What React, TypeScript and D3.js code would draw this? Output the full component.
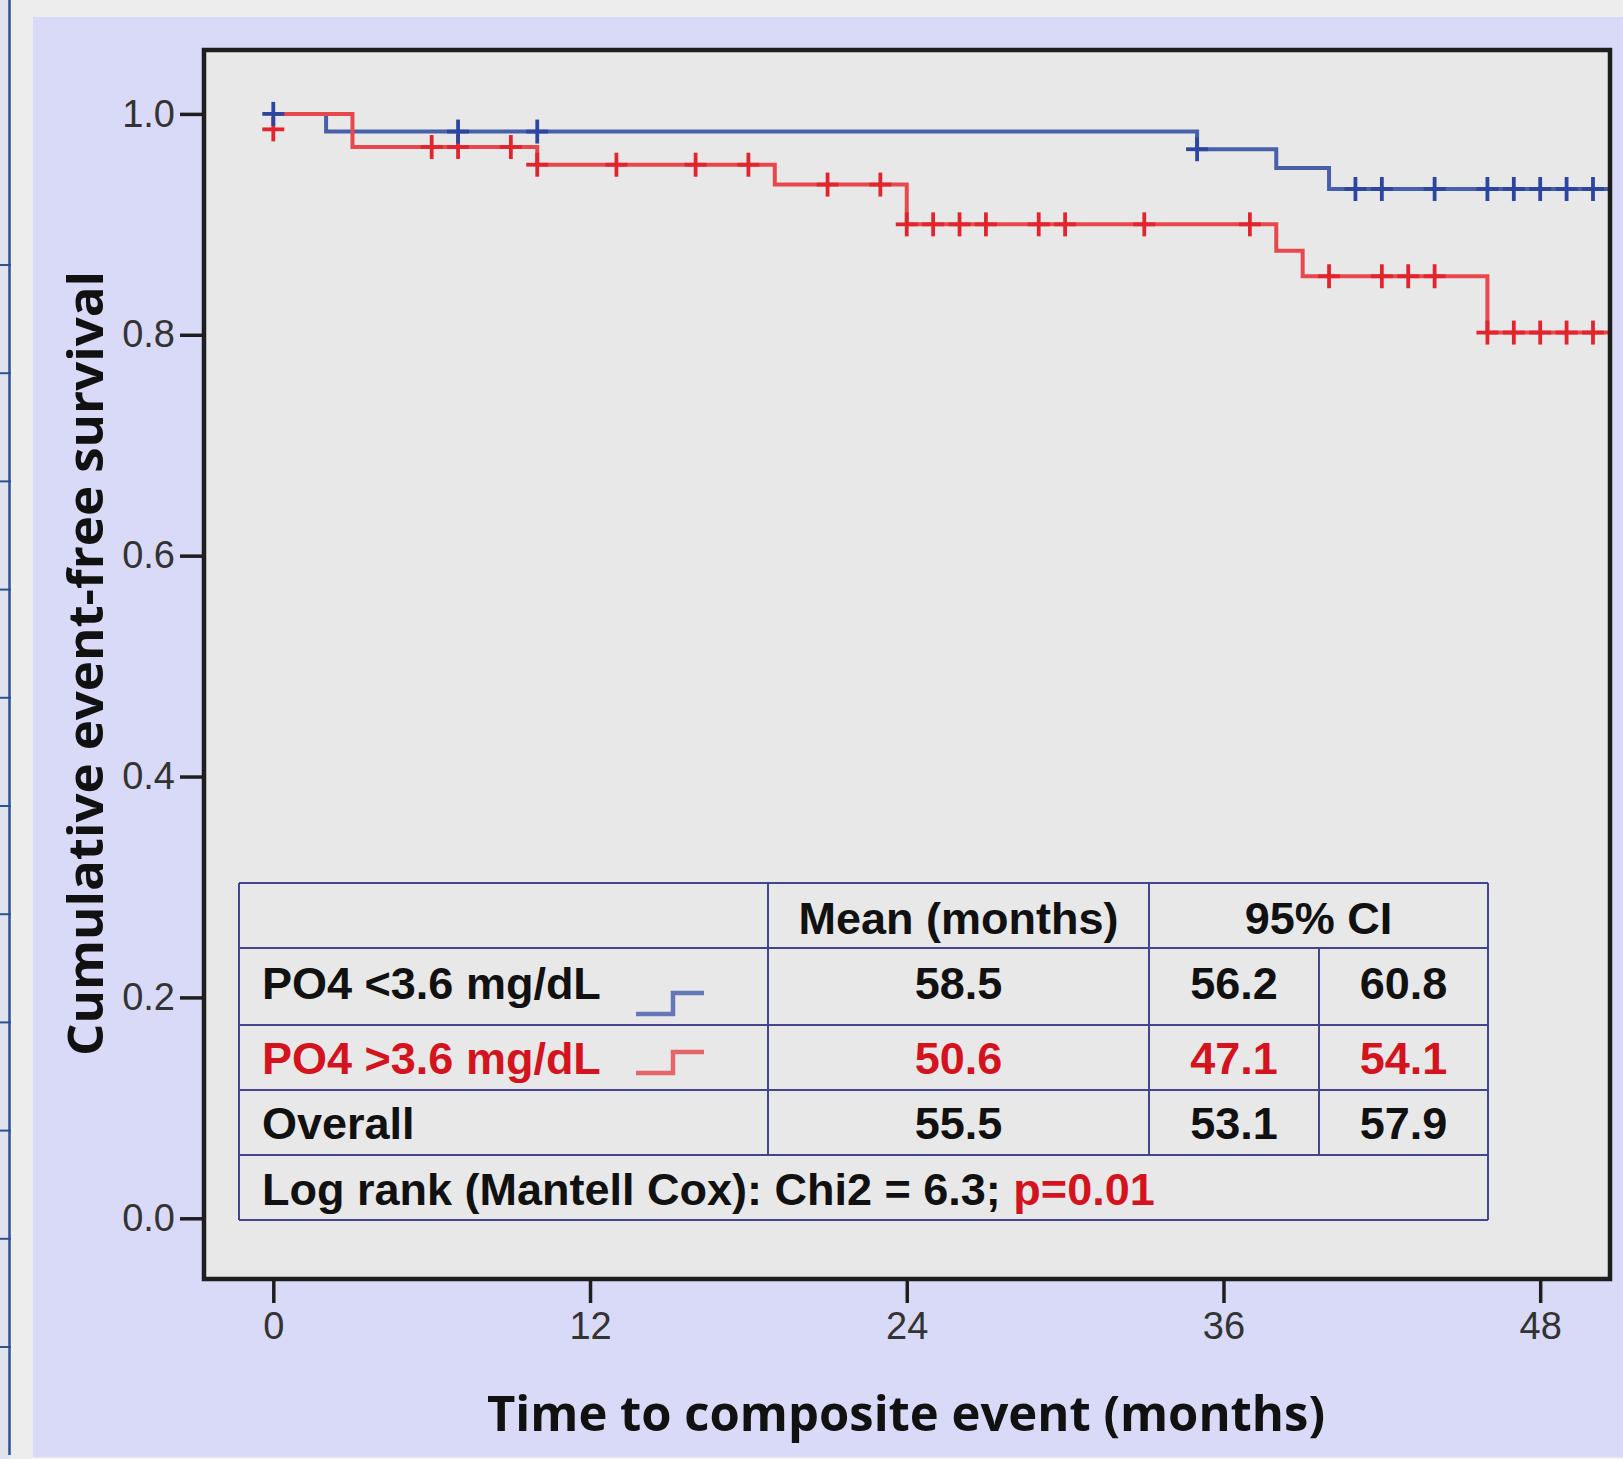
import { useEffect, useRef } from 'react';
import * as d3 from 'd3';

const W = 1623;
const H = 1459;

// Kaplan-Meier steps: time (months) and survival
const lowTimes = [0, 2, 35, 38, 40];
const lowSurv = [1.0, 0.984, 0.968, 0.951, 0.932];
const highTimes = [0, 3, 10, 19, 24, 38, 39, 46];
const highSurv = [1.0, 0.97, 0.954, 0.936, 0.9, 0.876, 0.853, 0.802];
const lastFollowUp = 50.6;

// censored observations [time, survival at mark]
const lowCensored = [
    [0, 1.0], [7, 0.984], [10, 0.984], [35, 0.968],
    [41, 0.932], [42, 0.932], [44, 0.932], [46, 0.932], [47, 0.932], [48, 0.932], [49, 0.932], [50, 0.932],
];
const highCensored = [
    [0, 0.986], [6, 0.97], [7, 0.97], [9, 0.97],
    [10, 0.954], [13, 0.954], [16, 0.954], [18, 0.954],
    [21, 0.936], [23, 0.936],
    [24, 0.9], [25, 0.9], [26, 0.9], [27, 0.9], [29, 0.9], [30, 0.9], [33, 0.9], [37, 0.9],
    [40, 0.853], [42, 0.853], [43, 0.853], [44, 0.853],
    [46, 0.802], [47, 0.802], [48, 0.802], [49, 0.802], [50, 0.802],
];

const xTicks = [0, 12, 24, 36, 48];
const yTicks = [0, 0.2, 0.4, 0.6, 0.8, 1.0];

// summary table
const tableHeader = ['Mean (months)', '95% CI'];
const groupLabels = ['PO4 <3.6 mg/dL', 'PO4 >3.6 mg/dL', 'Overall'];
const meanMonths = ['58.5', '50.6', '55.5'];
const ciLower = ['56.2', '47.1', '53.1'];
const ciUpper = ['60.8', '54.1', '57.9'];
const logRankText = 'Log rank (Mantell Cox): Chi2 = 6.3; ';
const pValueText = 'p=0.01';

const COLORS = {
    page: '#ededed',
    strip: '#dfe3ee',
    stripLine: '#2d5290',
    panel: '#d9d9f8',
    plot: '#e8e8e8',
    frame: '#1e1e1e',
    tick: '#333333',
    blue: '#4860a8',
    blueMark: '#2c46a0',
    red: '#e8474c',
    redMark: '#e2242c',
    redText: '#d3131e',
    grid: '#45458f',
    legendBlue: '#6478b8',
    legendRed: '#e6656a',
};

const SANS = "'Liberation Sans', Arial, sans-serif";
const TITLE = "'Open Sans', 'DejaVu Sans', sans-serif";

export default function App() {
    const svgRef = useRef(null);

    useEffect(() => {
        const svg = d3.select(svgRef.current);
        svg.selectAll('*').remove();

        // backdrop
        svg.append('rect').attr('width', W).attr('height', H).attr('fill', COLORS.page);
        svg.append('rect').attr('x', 0).attr('y', 0).attr('width', 9).attr('height', H).attr('fill', COLORS.strip);
        svg.append('line').attr('x1', 9.5).attr('x2', 9.5).attr('y1', 0).attr('y2', 1455)
            .attr('stroke', COLORS.stripLine).attr('stroke-width', 2.5);
        d3.range(11).forEach(i => {
            const yy = 265 + i * 108.2;
            svg.append('line').attr('x1', 0).attr('x2', 11).attr('y1', yy).attr('y2', yy)
                .attr('stroke', COLORS.stripLine).attr('stroke-width', 2);
        });
        svg.append('rect').attr('x', 33).attr('y', 17).attr('width', W - 33).attr('height', 1440).attr('fill', COLORS.panel);

        const frame = { left: 204, top: 50, right: 1610, bottom: 1279 };
        const x = d3.scaleLinear().domain([0, 48]).range([273.3, 1540.2]);
        const y = d3.scaleLinear().domain([0, 1]).range([1218.3, 113.9]);

        svg.append('rect')
            .attr('x', frame.left).attr('y', frame.top)
            .attr('width', frame.right - frame.left).attr('height', frame.bottom - frame.top)
            .attr('fill', COLORS.plot);

        // Axes
        const yAxis = svg.append('g').attr('transform', `translate(${frame.left},0)`)
            .call(d3.axisLeft(y).tickValues(yTicks).tickFormat(d3.format('.1f')).tickSize(24).tickPadding(5));
        yAxis.select('.domain').remove();
        yAxis.selectAll('line').attr('stroke', COLORS.frame).attr('stroke-width', 3.5);
        yAxis.selectAll('text').style('fill', COLORS.tick).style('font-size', '38px').style('font-family', SANS);

        const xAxis = svg.append('g').attr('transform', `translate(0,${frame.bottom})`)
            .call(d3.axisBottom(x).tickValues(xTicks).tickSize(24).tickPadding(9));
        xAxis.select('.domain').remove();
        xAxis.selectAll('line').attr('stroke', COLORS.frame).attr('stroke-width', 3.5);
        xAxis.selectAll('text').style('fill', COLORS.tick).style('font-size', '38px').style('font-family', SANS);

        // Survival curves
        const line = d3.line()
            .x(d => x(d[0]))
            .y(d => y(d[1]))
            .curve(d3.curveStepAfter);

        const curves = [
            { times: lowTimes, surv: lowSurv, color: COLORS.blue },
            { times: highTimes, surv: highSurv, color: COLORS.red },
        ];
        for (const c of curves) {
            const pts = c.times.map((t, i) => [t, c.surv[i]]);
            pts.push([lastFollowUp, c.surv[c.surv.length - 1]]);
            svg.append('path')
                .datum(pts)
                .attr('d', line)
                .attr('fill', 'none')
                .attr('stroke', c.color)
                .attr('stroke-width', 4);
        }

        // Censor marks
        const marks = [
            { data: highCensored, color: COLORS.redMark },
            { data: lowCensored, color: COLORS.blueMark },
        ];
        for (const m of marks) {
            const g = svg.append('g').attr('stroke', m.color).attr('stroke-width', 3.8);
            m.data.forEach(([t, s]) => {
                const cx = x(t), cy = y(s);
                g.append('line').attr('x1', cx).attr('x2', cx).attr('y1', cy - 12).attr('y2', cy + 12);
                g.append('line').attr('x1', cx - 11).attr('x2', cx + 11).attr('y1', cy).attr('y2', cy);
            });
        }

        // frame on top
        svg.append('rect')
            .attr('x', frame.left).attr('y', frame.top)
            .attr('width', frame.right - frame.left).attr('height', frame.bottom - frame.top)
            .attr('fill', 'none').attr('stroke', COLORS.frame).attr('stroke-width', 4.5);

        // Summary table
        const tbl = svg.append('g');
        const rows = [883, 948, 1025, 1090, 1155, 1220];
        const cols = [239, 768, 1149, 1319, 1488];
        const gridStroke = (x1, y1, x2, y2) => tbl.append('line')
            .attr('x1', x1).attr('y1', y1).attr('x2', x2).attr('y2', y2)
            .attr('stroke', COLORS.grid).attr('stroke-width', 2);
        gridStroke(cols[0], rows[0], cols[4], rows[0]);
        rows.slice(1).forEach(r => gridStroke(cols[0], r, cols[4], r));
        gridStroke(cols[0], rows[0], cols[0], rows[5]);
        gridStroke(cols[4], rows[0], cols[4], rows[5]);
        gridStroke(cols[1], rows[0], cols[1], rows[4]);
        gridStroke(cols[2], rows[0], cols[2], rows[4]);
        gridStroke(cols[3], rows[1], cols[3], rows[4]);

        const txt = (s, tx, ty, anchor, color) => tbl.append('text')
            .attr('x', tx).attr('y', ty)
            .attr('text-anchor', anchor)
            .style('font-family', SANS).style('font-weight', 'bold').style('font-size', '45px')
            .style('fill', color)
            .text(s);

        const baselines = [934, 999, 1074, 1139];
        txt(tableHeader[0], (cols[1] + cols[2]) / 2, baselines[0], 'middle', '#111');
        txt(tableHeader[1], (cols[2] + cols[4]) / 2, baselines[0], 'middle', '#111');
        groupLabels.forEach((lbl, i) => {
            const color = i === 1 ? COLORS.redText : '#111';
            const by = baselines[i + 1];
            txt(lbl, 262, by, 'start', color);
            txt(meanMonths[i], (cols[1] + cols[2]) / 2, by, 'middle', color);
            txt(ciLower[i], (cols[2] + cols[3]) / 2, by, 'middle', color);
            txt(ciUpper[i], (cols[3] + cols[4]) / 2, by, 'middle', color);
        });
        const lr = tbl.append('text')
            .attr('x', 262).attr('y', 1205)
            .style('font-family', SANS).style('font-weight', 'bold').style('font-size', '45px')
            .style('fill', '#111');
        lr.append('tspan').text(logRankText);
        lr.append('tspan').style('fill', COLORS.redText).text(pValueText);

        // legend step icons
        const icons = [
            { color: COLORS.legendBlue, y0: 1014, y1: 993 },
            { color: COLORS.legendRed, y0: 1073, y1: 1052 },
        ];
        icons.forEach(ic => {
            tbl.append('path')
                .attr('d', `M636,${ic.y0}H673V${ic.y1}H704`)
                .attr('fill', 'none').attr('stroke', ic.color).attr('stroke-width', 4.5);
        });

        // Axis titles
        svg.append('text')
            .attr('x', 906).attr('y', 1431)
            .attr('text-anchor', 'middle')
            .attr('textLength', 838).attr('lengthAdjust', 'spacingAndGlyphs')
            .style('font-family', TITLE).style('font-weight', 'bold').style('font-size', '48px')
            .style('fill', '#111')
            .text('Time to composite event (months)');

        svg.append('text')
            .attr('transform', 'translate(103,663.5) rotate(-90)')
            .attr('text-anchor', 'middle')
            .attr('textLength', 785).attr('lengthAdjust', 'spacingAndGlyphs')
            .style('font-family', TITLE).style('font-weight', 'bold').style('font-size', '48px')
            .style('fill', '#111')
            .text('Cumulative event-free survival');
    }, []);

    return (
        <div style={{ position: 'absolute', left: 0, top: 0 }}>
            <svg ref={svgRef} width={W} height={H} style={{ display: 'block' }} />
        </div>
    );
}
